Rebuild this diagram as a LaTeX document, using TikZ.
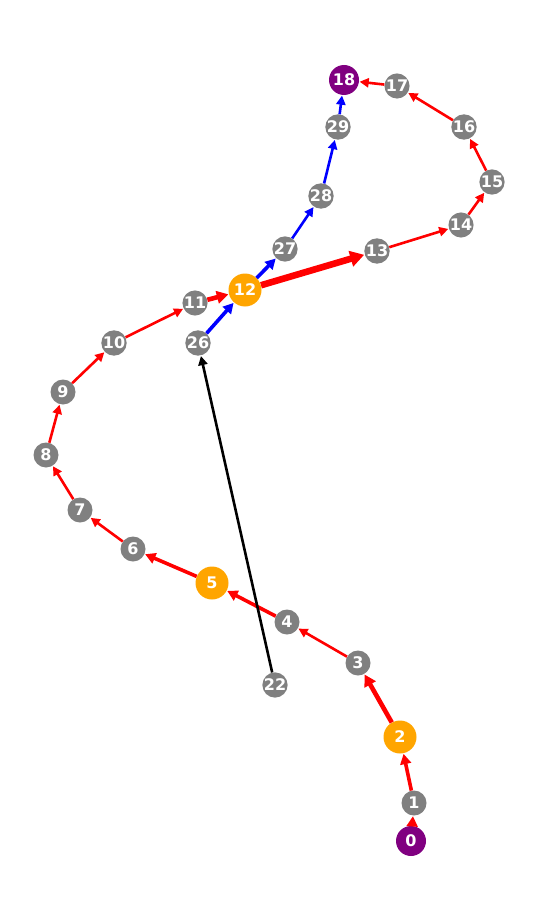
\documentclass[tikz,border=0pt]{standalone}
\usepackage{fontspec}
\setmainfont{DejaVu Sans}
\usetikzlibrary{arrows.meta}
\definecolor{ngray}{HTML}{808080}
\definecolor{norange}{HTML}{FFA500}
\definecolor{npurple}{HTML}{800080}
\begin{document}
\begin{tikzpicture}[x=1pt,y=-1pt,
  nd/.style={circle,inner sep=0pt,text=white,font=\fontsize{16}{16}\selectfont\bfseries},
  gn/.style={nd,fill=ngray,minimum size=25pt},
  on/.style={nd,fill=norange,minimum size=33pt},
  pn/.style={nd,fill=npurple,minimum size=30pt},
  ed/.style={-{Triangle[length=6pt 1.2,width=5pt 1.6]},line width=2.6pt,shorten >=0.5pt},
  r1/.style={ed,red},
  r2/.style={ed,red,line width=3.6pt},
  r3/.style={ed,red,line width=4.6pt},
  r4/.style={ed,red,line width=6.6pt},
  b1/.style={ed,blue},
  b2/.style={ed,blue,line width=3.6pt},
  k1/.style={ed,black}]
\useasboundingbox (0,-1) rectangle (540,919);
\node[pn] (n0) at (411,840) {0};
\node[gn] (n1) at (414,802) {1};
\node[on] (n2) at (400,736) {2};
\node[gn] (n3) at (358,662) {3};
\node[gn] (n4) at (287,621) {4};
\node[on] (n5) at (212,582) {5};
\node[gn] (n6) at (133,548) {6};
\node[gn] (n7) at (80,509) {7};
\node[gn] (n8) at (46,454) {8};
\node[gn] (n9) at (63,391) {9};
\node[gn] (n10) at (114,342) {10};
\node[gn] (n11) at (195,302) {11};
\node[on] (n12) at (245,289) {12};
\node[gn] (n13) at (377,250) {13};
\node[gn] (n14) at (461,224) {14};
\node[gn] (n15) at (492,181) {15};
\node[gn] (n16) at (464,126) {16};
\node[gn] (n17) at (397,85) {17};
\node[pn] (n18) at (344,79) {18};
\node[gn] (n29) at (338,126) {29};
\node[gn] (n28) at (321,195) {28};
\node[gn] (n27) at (285,248) {27};
\node[gn] (n26) at (198,342) {26};
\node[gn] (n22) at (275,684) {22};
\draw[r2] (n0) -- (n1);
\draw[r2] (n1) -- (n2);
\draw[r3] (n2) -- (n3);
\draw[r1] (n3) -- (n4);
\draw[r2] (n4) -- (n5);
\draw[r2] (n5) -- (n6);
\draw[r1] (n6) -- (n7);
\draw[r1] (n7) -- (n8);
\draw[r1] (n8) -- (n9);
\draw[r1] (n9) -- (n10);
\draw[r1] (n10) -- (n11);
\draw[r3] (n11) -- (n12);
\draw[r4] (n12) -- (n13);
\draw[r1] (n13) -- (n14);
\draw[r1] (n14) -- (n15);
\draw[r1] (n15) -- (n16);
\draw[r1] (n16) -- (n17);
\draw[r1] (n17) -- (n18);
\draw[b2] (n26) -- (n12);
\draw[b2] (n12) -- (n27);
\draw[b1] (n27) -- (n28);
\draw[b1] (n28) -- (n29);
\draw[b1] (n29) -- (n18);
\draw[k1] (n22) -- (n26);
\end{tikzpicture}
\end{document}
